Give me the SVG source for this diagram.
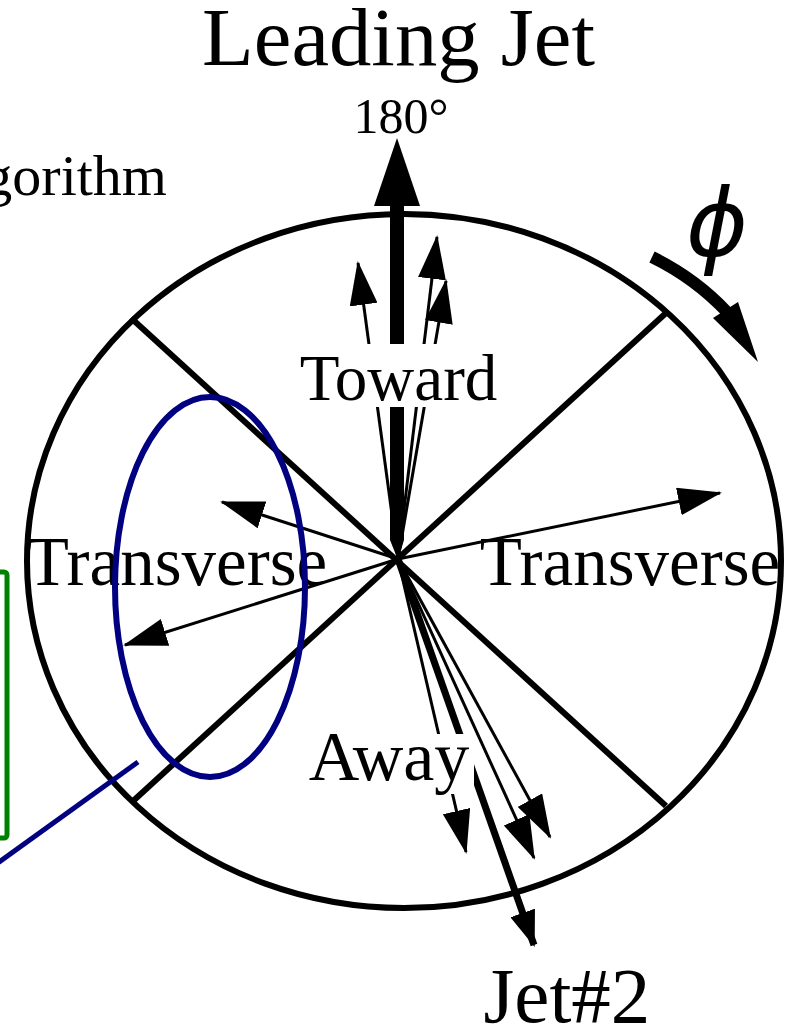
<svg xmlns="http://www.w3.org/2000/svg" width="795" height="1029" viewBox="0 0 795 1029">
<style>
.t{font-family:"Liberation Serif","Times New Roman",serif;fill:#000}
.ln{stroke:#000;fill:none}
</style>
<defs>
<marker id="ah" markerUnits="userSpaceOnUse" markerWidth="44" markerHeight="28" viewBox="0 0 44 28" refX="42" refY="14" orient="auto">
<path d="M0,0 L44,14 L0,28 Z" fill="#000"/>
</marker>
<marker id="ahj" markerUnits="userSpaceOnUse" markerWidth="36" markerHeight="26" viewBox="0 0 36 26" refX="34" refY="13" orient="auto">
<path d="M0,0 L36,13 L0,26 Z" fill="#000"/>
</marker>
</defs>
<rect width="795" height="1029" fill="#fff"/>
<g id="frame">
<ellipse cx="404" cy="561" rx="377" ry="347" class="ln" stroke-width="6"/>
<line x1="131" y1="318" x2="666" y2="806" class="ln" stroke-width="6"/>
<line x1="666" y1="313" x2="132" y2="802" class="ln" stroke-width="6"/>
</g>
<g id="connectors">
<polygon points="390,206 404,206 404,540 398,560 390,540" fill="#000"/>
<polygon points="397,138 420,206 374,206" fill="#000"/>
<line x1="398" y1="559" x2="358" y2="263" class="ln" stroke-width="3" marker-end="url(#ah)"/>
<line x1="398" y1="559" x2="437" y2="237" class="ln" stroke-width="3" marker-end="url(#ah)"/>
<line x1="398" y1="559" x2="446" y2="281" class="ln" stroke-width="3" marker-end="url(#ah)"/>
<line x1="398" y1="559" x2="720" y2="493" class="ln" stroke-width="3" marker-end="url(#ah)"/>
<line x1="398" y1="559" x2="222" y2="502" class="ln" stroke-width="3" marker-end="url(#ah)"/>
<line x1="398" y1="559" x2="125" y2="645" class="ln" stroke-width="3" marker-end="url(#ah)"/>
<line x1="398" y1="559" x2="466" y2="852" class="ln" stroke-width="3" marker-end="url(#ah)"/>
<line x1="398" y1="559" x2="534" y2="858" class="ln" stroke-width="3" marker-end="url(#ah)"/>
<line x1="398" y1="559" x2="550" y2="837" class="ln" stroke-width="3" marker-end="url(#ah)"/>
<line x1="398" y1="559" x2="534" y2="945" class="ln" stroke-width="7" marker-end="url(#ahj)"/>
<path d="M652,257 Q695,278 727,312" class="ln" stroke-width="12"/>
<polygon points="758,362 713,318 738,302" fill="#000"/>
</g>
<g id="title">
<text x="202" y="65" class="t" font-size="82" textLength="393" lengthAdjust="spacingAndGlyphs">Leading Jet</text>
<text x="401" y="133" class="t" font-size="50" text-anchor="middle">180°</text>
</g>
<g id="algo">
<text x="167" y="195" class="t" font-size="58" text-anchor="end">gorithm</text>
</g>
<g id="toward">
<rect x="300" y="344" width="198" height="63" fill="#fff"/>
<text x="398.5" y="400" class="t" font-size="65" text-anchor="middle">Toward</text>
</g>
<g id="away">
<rect x="305" y="734" width="169" height="60" fill="#fff"/>
<text x="389" y="780" class="t" font-size="70" text-anchor="middle">Away</text>
</g>
<g id="transverse-left">
<text x="177" y="585" class="t" font-size="69" text-anchor="middle">Transverse</text>
</g>
<g id="transverse-right">
<text x="630" y="585" class="t" font-size="69" text-anchor="middle">Transverse</text>
</g>
<g id="jet2">
<text x="567" y="1022" class="t" font-size="79" text-anchor="middle">Jet#2</text>
</g>
<g id="phi">
<text x="717" y="256" font-family="DejaVu Sans,sans-serif" font-style="italic" font-size="94" text-anchor="middle">ϕ</text>
</g>
<g id="highlight">
<ellipse cx="210" cy="587" rx="95" ry="190" fill="none" stroke="#000080" stroke-width="6"/>
<line x1="138" y1="762" x2="-5" y2="865" stroke="#000080" stroke-width="5"/>
</g>
<g id="green-box">
<rect x="-20" y="572" width="27" height="266" rx="3" fill="none" stroke="#008000" stroke-width="5"/>
</g>
</svg>
